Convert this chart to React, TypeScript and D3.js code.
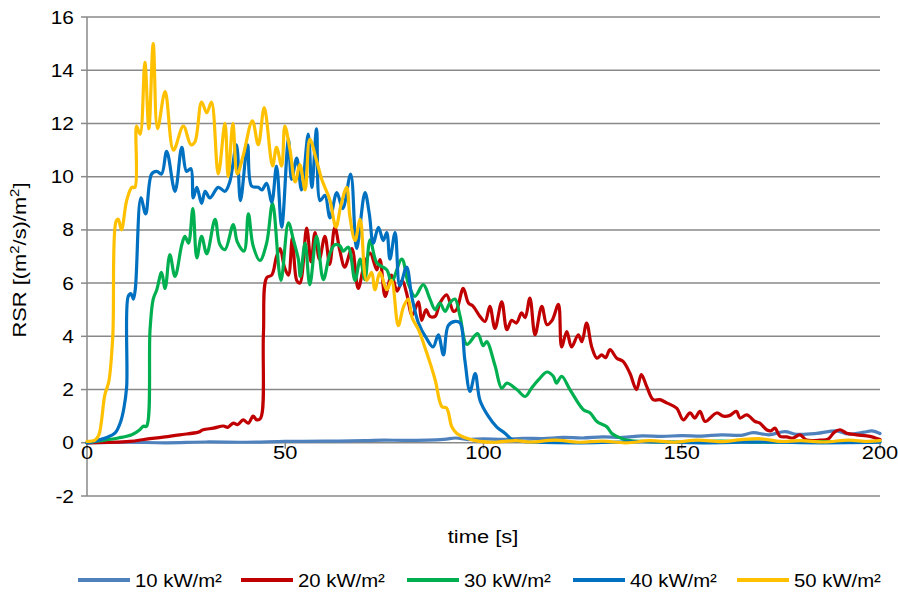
import React from "react";
import * as d3 from "d3";

const X_TICKS = [0, 50, 100, 150, 200];
const Y_TICKS = [-2, 0, 2, 4, 6, 8, 10, 12, 14, 16];
const SERIES_NAMES = ["10 kW/m²", "20 kW/m²", "30 kW/m²", "40 kW/m²", "50 kW/m²"];
const SERIES_COLORS = ["#4F81BD", "#C00000", "#00B050", "#0070C0", "#FFC000"];

const T10 = [0,10,20,30,40,50,60,70,75,80,90,93,96,100,105,110,115,120,125,130,135,140,145,150,155,160,165,168,172,176,179,184,189,192,196,198,200];
const V10 = [0,0.02,0,0.03,0.02,0.05,0.06,0.08,0.1,0.09,0.13,0.18,0.12,0.15,0.13,0.17,0.16,0.2,0.18,0.22,0.2,0.26,0.24,0.27,0.25,0.3,0.28,0.38,0.3,0.42,0.32,0.35,0.45,0.33,0.4,0.45,0.35];

const T20 = [0,10.8,15,19.2,23.4,28.1,29.3,31.9,34.4,35.5,36.9,38,39.4,40.7,41.9,42.8,43.8,44.5,45.3,46.6,47.8,48.7,49.8,50.8,51.8,52.9,53.7,55.4,56.5,57.5,58.6,60,61.2,62.5,63.8,65,66.8,68.4,69.8,71.4,73.1,73.9,75.2,76.8,78.2,79.5,80.6,82,83.6,84.4,85.5,86.5,87.8,89,90.7,92.4,93.2,94.9,96.2,97.4,99.1,100.4,101.6,102.9,104.6,105.9,107.1,108.3,109.6,110.5,111.7,113,114.7,116,117.3,118.9,119.7,121,122.2,123.9,124.8,126,127.3,128.6,129.8,130.8,131.9,133.6,135.2,136.9,138.6,139.8,141.2,142.8,144.5,146.2,148.7,150.4,152.1,153.3,154.6,155.9,158.8,160.5,162,163.8,164.7,166.4,168.5,169.7,171.4,172.5,173.5,174.8,176.5,178.1,179.8,181.5,184.9,187,188.5,189.9,191.6,194.1,197.5,199.6,200];
const V20 = [0,0.05,0.14,0.21,0.3,0.4,0.49,0.55,0.63,0.58,0.74,0.68,0.86,0.74,1.0,0.86,0.93,4.1,6.2,6.3,7.0,7.3,6.6,6.3,7.7,6.1,6.0,8.07,6.8,7.9,6.9,7.76,6.7,8.1,7.2,6.6,7.3,5.8,6.6,7.13,6.5,6.88,5.5,6.3,5.7,6.1,5.63,4.8,5.3,4.6,5.0,4.75,4.75,5.25,5.56,4.94,5.0,5.8,5.25,5.13,4.75,4.56,5.13,4.3,5.3,4.25,4.6,4.5,4.88,4.7,5.44,4.06,5.13,4.44,4.6,5.2,3.6,4.18,3.6,4.06,3.8,4.5,3.6,3.18,3.3,3.2,3.5,3.18,3.06,2.62,2.0,2.56,2.1,1.62,1.62,1.5,1.3,0.86,1.12,0.93,1.18,0.8,1.12,1.0,1.02,1.18,0.93,1.05,0.8,0.74,0.49,0.45,0.55,0.24,0.22,0.18,0.3,0.1,0.1,0.15,0.4,0.49,0.36,0.3,0.24,0.14,0.12];

const T30 = [0,4.5,7.9,11.3,13.4,14.2,15,15.9,16.7,17.6,18.8,19.7,20.9,22.2,23.9,24.7,25.6,26.7,27.7,28.9,30.2,32.3,33.5,34.8,36.9,37.9,39.6,40.7,41.9,43.6,45.3,46.8,48.9,50.8,52.1,53.3,53.8,55,56.2,57.9,59.6,61.3,62.5,63.8,64.6,65.9,67.6,68.9,70.1,71.4,73.1,75.6,76.8,79.4,81,82.7,84.8,86.5,87.8,89,90.3,91.5,92.8,94.1,95.8,98.5,99.9,100.8,102.9,104.6,105.9,108.4,110.5,112.1,113.9,116,117.6,118.4,119.7,121.8,125.2,126.9,128.6,131.1,132.3,133.6,136.1,140,150,160,170,180,190,200];
const V30 = [0,0.1,0.18,0.3,0.5,0.62,0.62,4.25,5.4,5.75,6.4,5.8,7.07,6.25,7.44,7.76,7.5,8.8,6.95,7.76,7.1,8.4,7.45,7.26,8.2,7.55,7.2,8.6,7.4,6.85,7.5,9.0,6.1,8.26,7.6,6.9,6.25,7.5,5.94,7.76,6.13,7.13,7.44,7.4,7.2,7.35,6.1,6.9,6.13,7.63,6.76,6.5,6.06,6.9,6.0,5.5,5.94,5.4,5.0,5.25,4.94,5.25,5.4,4.75,3.7,4.1,3.65,3.8,2.9,2.05,2.24,2.0,1.74,2.05,2.37,2.66,2.5,2.24,2.5,2.0,1.24,1.12,0.8,0.6,0.36,0.24,0.1,0.05,0.03,0.06,0.02,0.05,0.03,0.05];

const T40 = [0,2.9,5,7.1,8.5,9.3,10,10.4,11.1,11.7,12.2,13.6,14.8,16.3,17.6,18.8,20.1,22.2,23.9,25.1,26.2,26.8,27.7,28.9,29.8,31,33.1,34.8,36,37.7,38.7,40.5,41.5,43.2,44.1,45.3,46.6,47.8,49.1,50.8,51.6,52.9,54.1,55.8,56.7,57.9,58.8,60,61.3,63,64.5,66.5,68,70.1,71.2,72.2,73.5,74.7,75.6,76.4,77.7,78.9,80.6,81.9,83.6,85.7,87.3,88.6,89.9,91.1,92.8,94.1,95.3,96.6,97.9,99.1,101.2,103.3,105.4,107.5,112,125,140,155,170,185,200];
const V40 = [0,0.1,0.2,0.37,0.8,1.3,2.1,5.5,5.6,5.4,5.8,9.2,8.6,10.1,10.2,10.1,10.95,9.45,11.1,10.2,10.3,9.2,9.6,9.0,9.45,9.2,9.6,9.45,9.8,11.2,9.1,11.2,9.65,9.6,9.5,9.75,9.05,10.4,8.1,11.4,9.9,10.7,9.5,11.6,9.6,11.8,9.1,9.3,8.45,9.4,8.8,10.1,7.3,9.4,8.6,7.5,8.1,7.6,7.9,6.9,7.9,5.9,6.6,5.5,4.5,3.9,3.6,4.06,3.3,4.4,4.56,4.5,3.1,1.93,2.6,1.6,1.0,0.6,0.36,0.1,0.03,0,0.04,0,0.03,0,0.02];

const T50 = [0,2,3,4.5,5.5,6.5,7.3,7.9,8.7,10,11.3,12.1,12.5,13.4,14.6,15.6,16.7,17.8,19.7,21.8,24.3,26.2,27.2,28.9,30.2,31.4,33.1,34.8,35.6,36.8,37.9,39.4,41.7,43.2,44.7,46.8,47.8,49.1,49.9,51.2,52.5,53.7,55,56.2,57.9,59.2,60,61.3,62.8,64,65.5,66.3,67.6,68.9,70.5,71.8,72.6,73.9,75.6,76.8,78.5,79.8,81,82,83.6,85.7,87.8,89.5,90.7,92,93.2,95.8,99,103,108,112,118,124,130,136,142,148,154,160,165,170,175,180,186,192,197,200];
const V50 = [0.05,0.1,0.3,1.8,2.3,4.0,8.3,8.4,8.0,9.1,9.6,9.6,11.9,11.6,14.3,11.8,15.0,11.8,13.2,11.0,11.9,11.2,11.3,12.8,12.4,12.8,10.1,12.0,10.0,12.0,10.1,10.8,12.1,11.2,12.6,10.4,11.1,10.4,11.9,11.0,9.8,10.45,9.5,11.4,10.6,9.9,9.6,9.1,8.1,8.9,9.6,8.5,7.6,8.4,6.1,6.4,5.75,6.4,5.75,6.1,4.4,5.1,5.4,4.7,4.25,3.37,2.37,1.36,1.3,0.6,0.36,0.17,0.05,0.02,0.08,0.03,0.1,0.02,0.06,0,0.08,0.02,0.1,0.04,0.12,0.15,0.05,0.08,0.03,0.1,0.05,0.08];

const SERIES_T = [T10, T20, T30, T40, T50];
const SERIES_V = [V10, V20, V30, V40, V50];

const FONT = "'Liberation Sans', Arial, sans-serif";
const FS = 19;

function Txt({ x, y, anchor = "start", children, rotate = 0, sx = 1.15 }: any) {
  const tr = rotate
    ? `translate(${x},${y}) rotate(${rotate}) scale(${sx},1)`
    : `translate(${x},${y}) scale(${sx},1)`;
  return (
    <text transform={tr} textAnchor={anchor} fontFamily={FONT} fontSize={FS} fill="#000">
      {children}
    </text>
  );
}

export default function App() {
  const W = 898, H = 600;
  const x = d3.scaleLinear().domain([0, 200]).range([87, 880]);
  const y = d3.scaleLinear().domain([-2, 16]).range([496, 17]);
  const gridColor = "#898989";

  const line = d3
    .line<[number, number]>()
    .x((d) => x(d[0]))
    .y((d) => y(d[1]))
    .curve(d3.curveCatmullRom.alpha(0.5));

  const legendX = [78, 241, 407, 573, 737];

  return (
    <svg width={W} height={H} style={{ position: "absolute", left: 0, top: 0, background: "#fff" }}>
      <rect x={0} y={0} width={W} height={H} fill="#fff" />
      {Y_TICKS.map((t) => (
        <g key={"gy" + t}>
          {t !== 0 && (
            <line x1={x(0)} x2={x(200)} y1={y(t)} y2={y(t)} stroke={gridColor} strokeWidth={1.5} />
          )}
          <line x1={x(0) - 6} x2={x(0)} y1={y(t)} y2={y(t)} stroke={gridColor} strokeWidth={1.5} />
          <Txt x={74} y={y(t) + 6.5} anchor="end" sx={1.1}>{String(t)}</Txt>
        </g>
      ))}
      <line x1={x(0)} x2={x(0)} y1={y(16)} y2={y(-2)} stroke={gridColor} strokeWidth={1.5} />
      <line x1={x(0)} x2={x(200)} y1={y(0)} y2={y(0)} stroke={gridColor} strokeWidth={1.5} />
      {X_TICKS.map((t) => (
        <g key={"gx" + t}>
          <line x1={x(t)} x2={x(t)} y1={y(0)} y2={y(0) + 6} stroke={gridColor} strokeWidth={1.5} />
          <Txt x={x(t)} y={459} anchor="middle">{String(t)}</Txt>
        </g>
      ))}
      {SERIES_T.map((T, i) => {
        const pts = T.map((t, j) => [t, SERIES_V[i][j]] as [number, number]);
        return (
          <path key={"s" + i} d={line(pts) || ""} fill="none" stroke={SERIES_COLORS[i]} strokeWidth={3.2} strokeLinejoin="round" strokeLinecap="round" />
        );
      })}
      <Txt x={26} y={260} anchor="middle" rotate={-90}>
        RSR [(m<tspan dy={-7} fontSize={13}>2</tspan><tspan dy={7}>/s)/m</tspan><tspan dy={-7} fontSize={13}>2</tspan><tspan dy={7}>]</tspan>
      </Txt>
      <Txt x={483} y={543} anchor="middle">time [s]</Txt>
      {SERIES_NAMES.map((n, i) => (
        <g key={"l" + i}>
          <line x1={legendX[i]} x2={legendX[i] + 52} y1={580} y2={580} stroke={SERIES_COLORS[i]} strokeWidth={4} />
          <Txt x={legendX[i] + 57} y={587} sx={1.07}>{n}</Txt>
        </g>
      ))}
    </svg>
  );
}
